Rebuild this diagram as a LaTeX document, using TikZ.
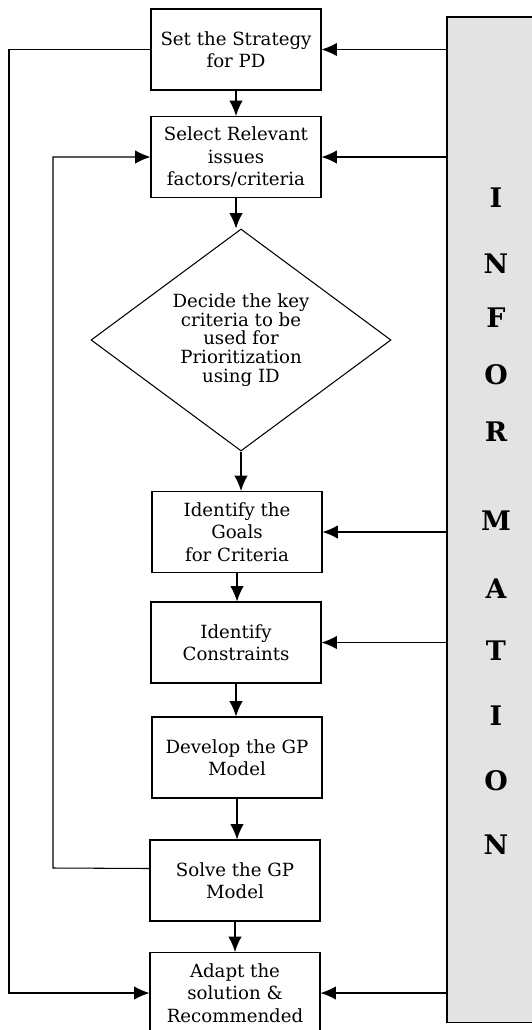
\documentclass[tikz,border=0pt]{standalone}
\usepackage{fontspec}
\setmainfont{DejaVu Serif}
\usepackage{tikz}
\usetikzlibrary{shapes.geometric, arrows.meta, positioning, calc}

\begin{document}
\begin{tikzpicture}[x=0.03cm, y=-0.03cm, >=latex,
    arr/.style={-{Latex[length=4.6mm,width=4mm]}, line width=0.9pt},
    box/.style={draw, line width=0.9pt, minimum width=5.1cm, minimum height=2.43cm,
        align=center, inner sep=2pt, font=\fontsize{15.5}{19}\selectfont},
    decision/.style={draw, diamond, line width=0.9pt, shape aspect=1.34,
        minimum width=9cm, minimum height=6.66cm, inner sep=0pt,
        align=center, font=\fontsize{15.5}{16}\selectfont},
    infobar/.style={draw, line width=0.9pt, fill=black!11,
        minimum width=3cm, minimum height=30.15cm},
    infoletter/.style={font=\fontsize{23}{28}\selectfont\bfseries}]
\useasboundingbox (0,0) rectangle (532,1030);

% information panel on the right
\node[infobar] (info) at (497,519.5) {};
\foreach \ch/\yy [count=\k] in {I/198, N/264, F/318, O/375, R/432, M/521,
    A/589, T/651, I/716, O/781, N/845}
  \node[infoletter] (let\k) at (496,\yy) {\ch};

% main flow
\node[box] (strategy) at (236,49.5) {Set the Strategy\\for PD};
\node[box] (select) at (236,157) {Select Relevant\\issues\\factors/criteria};
\node[decision] (decide) at (241,340) {Decide the key\\criteria to be\\used for\\Prioritization\\using ID};
\node[box] (goals) at (237,532) {Identify the\\Goals\\for Criteria};
\node[box] (constr) at (236,642.5) {Identify\\Constraints};
\node[box] (develop) at (237,757.5) {Develop the GP\\Model};
\node[box] (solve) at (235,880.5) {Solve the GP\\Model};
\node[box] (adapt) at (235,993) {Adapt the\\solution \&\\Recommended};

\draw[arr] (strategy.south) -- (strategy.south |- select.north);
\draw[arr] (select.south) -- (select.south |- decide.north);
\draw[arr] (decide.south) -- (decide.south |- goals.north);
\draw[arr] (goals.south) -- (goals.south |- constr.north);
\draw[arr] (constr.south) -- (constr.south |- develop.north);
\draw[arr] (develop.south) -- (develop.south |- solve.north);
\draw[arr] (solve.south) -- (solve.south |- adapt.north);

% inputs from the information panel
\draw[arr] (info.west |- strategy.east) -- (strategy.east);
\draw[arr] (info.west |- select.east) -- (select.east);
\draw[arr] (info.west |- goals.east) -- (goals.east);
\draw[arr] (info.west |- constr.east) -- (constr.east);
\draw[arr] (info.west |- adapt.east) -- (adapt.east);

% feedback loops
\coordinate (outer) at (9,49.5);
\coordinate (inner) at (53,868);
\draw[arr] (strategy.west) -- (outer) |- (adapt.west);
\draw[arr] ($(solve.west)+(0,-12)$) -- (inner) |- (select.west);
\end{tikzpicture}
\end{document}
